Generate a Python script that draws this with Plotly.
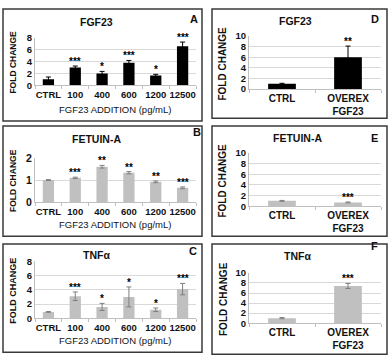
import plotly.graph_objects as go

W, H = 390, 364

# ---------------- data ----------------
doses = ["CTRL", "100", "400", "600", "1200", "12500"]
fgf23_vals = [1.0, 3.0, 2.0, 3.8, 1.65, 6.6]
fgf23_err = [0.4, 0.25, 0.35, 0.4, 0.2, 0.7]
fgf23_sig = ["", "***", "*", "***", "*", "***"]

fetuin_vals = [1.0, 1.1, 1.6, 1.33, 0.92, 0.65]
fetuin_err = [0.02, 0.03, 0.06, 0.05, 0.04, 0.04]
fetuin_sig = ["", "***", "**", "**", "**", "***"]

tnf_vals = [0.9, 3.1, 1.6, 3.0, 1.2, 4.1]
tnf_err = [0.05, 0.6, 0.5, 1.4, 0.25, 0.8]
tnf_sig = ["", "***", "*", "*", "*", "***"]

groups = ["CTRL", "OVEREX<br>FGF23"]
oe_fgf23_vals = [1.0, 6.0]
oe_fgf23_err = [0.1, 2.1]
oe_fgf23_sig = ["", "**"]
oe_fetuin_vals = [1.0, 0.7]
oe_fetuin_err = [0.08, 0.08]
oe_fetuin_sig = ["", "***"]
oe_tnf_vals = [1.0, 7.4]
oe_tnf_err = [0.12, 0.5]
oe_tnf_sig = ["", "***"]

BLACK = "#000000"
GREY = "#c0c0c0"
FONT = "Liberation Sans"
TXT = "#111111"


def px(x):
    return x / W


def py(y):
    return 1 - y / H


fig = go.Figure()

panels = [
    dict(cats=doses, vals=fgf23_vals, err=fgf23_err, sig=fgf23_sig, color=BLACK, ecol="#000000",
         x=(35, 196), y=(33, 82), yr=8, dt=2, title="FGF23", tpos=(96, 17),
         letter="A", lpos=(194, 13), ytf=9.5, xtf=9.5, yts=8.5, xty=107),
    dict(cats=doses, vals=fetuin_vals, err=fetuin_err, sig=fetuin_sig, color=GREY, ecol="#7f7f7f",
         x=(35, 196), y=(157, 203), yr=2, dt=1, title="FETUIN-A", tpos=(96, 138),
         letter="B", lpos=(197, 130), ytf=10.5, xtf=9.5, yts=8.5, xty=226),
    dict(cats=doses, vals=tnf_vals, err=tnf_err, sig=tnf_sig, color=GREY, ecol="#7f7f7f",
         x=(35, 196), y=(264, 323), yr=8, dt=2, title="TNFα", tpos=(96, 258),
         letter="C", lpos=(193, 253), ytf=9.5, xtf=9.5, yts=9, xty=346),
    dict(cats=groups, vals=oe_fgf23_vals, err=oe_fgf23_err, sig=oe_fgf23_sig, color=BLACK, ecol="#000000",
         x=(249, 381), y=(31, 86), yr=10, dt=2, title="FGF23", tpos=(295, 15),
         letter="D", lpos=(375, 13), ytf=9.5, xtf=10, yts=10),
    dict(cats=groups, vals=oe_fetuin_vals, err=oe_fetuin_err, sig=oe_fetuin_sig, color=GREY, ecol="#7f7f7f",
         x=(249, 381), y=(152, 207), yr=10, dt=2, title="FETUIN-A", tpos=(297, 137),
         letter="E", lpos=(374, 137), ytf=9.5, xtf=10, yts=10),
    dict(cats=groups, vals=oe_tnf_vals, err=oe_tnf_err, sig=oe_tnf_sig, color=GREY, ecol="#7f7f7f",
         x=(249, 381), y=(276, 328), yr=10, dt=2, title="TNFα", tpos=(297, 259),
         letter="F", lpos=(374, 248), ytf=9.5, xtf=10, yts=10),
]

annotations = []
layout_axes = {}

for i, p in enumerate(panels, start=1):
    xa = "x" if i == 1 else f"x{i}"
    ya = "y" if i == 1 else f"y{i}"
    fig.add_trace(go.Bar(
        x=p["cats"], y=p["vals"], xaxis=xa, yaxis=ya,
        marker=dict(color=p["color"], line=dict(width=0)),
        error_y=dict(type="data", array=p["err"], visible=True,
                     color=p["ecol"], thickness=1, width=2.5),
        showlegend=False, hoverinfo="skip",
    ))
    for k, (v, e, s) in enumerate(zip(p["vals"], p["err"], p["sig"])):
        if s:
            annotations.append(dict(
                x=k, y=v + e, xref=xa, yref=ya, text=s, showarrow=False,
                yanchor="bottom", yshift=-3,
                font=dict(family=FONT, size=10, color="#000000", weight="bold")))
    n = len(p["cats"])
    xkey = "xaxis" if i == 1 else f"xaxis{i}"
    ykey = "yaxis" if i == 1 else f"yaxis{i}"
    layout_axes[xkey] = dict(
        domain=[px(p["x"][0]), px(p["x"][1])], anchor=ya,
        type="category", range=[-0.5, n - 0.5], autorange=False,
        tickson="boundaries", ticks="outside", ticklen=3,
        tickcolor="#bfbfbf", showline=True, linecolor="#bfbfbf", linewidth=1,
        tickangle=0,
        tickfont=dict(family=FONT, size=p["xtf"], color=TXT, weight="bold"),
        showgrid=False, fixedrange=True,
    )
    layout_axes[ykey] = dict(
        domain=[py(p["y"][1]), py(p["y"][0])], anchor=xa,
        range=[0, p["yr"]], autorange=False, dtick=p["dt"], tick0=0,
        showgrid=True, gridcolor="#d9d9d9", gridwidth=1,
        showline=True, linecolor="#bfbfbf", linewidth=1, ticks="",
        tickfont=dict(family=FONT, size=p["ytf"], color=TXT, weight="bold"),
        zeroline=False, fixedrange=True,
    )
    annotations.append(dict(
        x=px(p["tpos"][0]), y=py(p["tpos"][1]), xref="paper", yref="paper",
        text=p["title"], showarrow=False, xanchor="center", yanchor="middle",
        font=dict(family=FONT, size=10.5, color=TXT, weight="bold")))
    annotations.append(dict(
        x=px(p["lpos"][0]), y=py(p["lpos"][1]), xref="paper", yref="paper",
        text=p["letter"], showarrow=False, xanchor="center", yanchor="middle",
        font=dict(family=FONT, size=11, color=TXT, weight="bold")))
    ytx = 13 if i <= 3 else 223
    annotations.append(dict(
        x=px(ytx), y=py((p["y"][0] + p["y"][1]) / 2 + 1), xref="paper", yref="paper",
        text="FOLD CHANGE", textangle=-90, showarrow=False,
        xanchor="center", yanchor="middle",
        font=dict(family=FONT, size=p["yts"], color=TXT, weight="bold")))
    if "xty" in p:
        annotations.append(dict(
            x=px(115), y=py(p["xty"]), xref="paper", yref="paper",
            text="FGF23 ADDITION (pg/mL)", showarrow=False,
            xanchor="center", yanchor="middle",
            font=dict(family=FONT, size=9.5, color=TXT)))

boxes = [(3, 3, 202, 119), (3, 124, 202, 238), (3, 246, 202, 358),
         (212, 3, 387, 116), (212, 124, 387, 238), (212, 246, 387, 360)]
shapes = [dict(type="rect", xref="paper", yref="paper",
               x0=px(a), x1=px(c), y0=py(d), y1=py(b),
               line=dict(color="#3a3a3a", width=1.5), fillcolor="rgba(0,0,0,0)")
          for a, b, c, d in boxes]

fig.update_layout(
    width=W, height=H, margin=dict(l=0, r=0, t=0, b=0),
    paper_bgcolor="white", plot_bgcolor="white",
    bargap=0.58, annotations=annotations, shapes=shapes,
    font=dict(family=FONT), **layout_axes,
)

fig.write_html("out.html", config={"displayModeBar": False, "staticPlot": True},
               post_script="document.body.style.margin='0';")
